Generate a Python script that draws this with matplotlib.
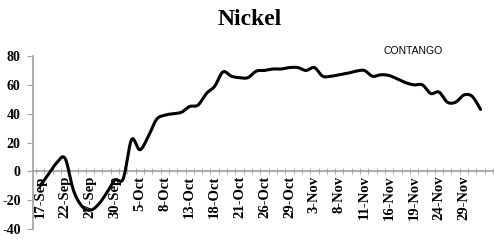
import matplotlib
matplotlib.use("Agg")
import matplotlib.pyplot as plt
import numpy as np

dates = ['17-Sep', '18-Sep', '21-Sep', '22-Sep', '23-Sep', '24-Sep', '27-Sep', '28-Sep', '29-Sep',
         '30-Sep', '1-Oct', '2-Oct', '5-Oct', '6-Oct', '7-Oct', '8-Oct', '9-Oct', '12-Oct',
         '13-Oct', '15-Oct', '16-Oct', '18-Oct', '19-Oct', '20-Oct', '21-Oct', '22-Oct', '23-Oct',
         '26-Oct', '27-Oct', '28-Oct', '29-Oct', '30-Oct', '2-Nov', '3-Nov', '4-Nov', '5-Nov',
         '8-Nov', '9-Nov', '10-Nov', '11-Nov', '12-Nov', '13-Nov', '16-Nov', '17-Nov', '18-Nov',
         '19-Nov', '20-Nov', '23-Nov', '24-Nov', '25-Nov', '26-Nov', '29-Nov', '30-Nov', '1-Dec']
contango = [-10, -2, 6, 9, -13, -24, -27, -23, -15, -6, -5, 22, 15, 24, 36, 39, 40, 41,
            45, 46, 54, 59, 69, 66, 65, 65, 69.5, 70, 71, 71, 72, 72, 70, 72, 66, 66,
            67, 68, 69.5, 70, 66, 67, 66.5, 64, 61.5, 60, 60, 54, 55, 48, 48, 53, 52, 43]
yticks = [-40, -20, 0, 20, 40, 60, 80]


def smooth(x, y, n=20):
    # Catmull-Rom style Bezier smoothing (like Excel's smoothed line)
    x = np.asarray(x, float)
    y = np.asarray(y, float)
    px, py = [], []
    N = len(x)
    for i in range(N - 1):
        x0, y0 = (x[i - 1], y[i - 1]) if i > 0 else (x[i], y[i])
        x1, y1 = x[i], y[i]
        x2, y2 = x[i + 1], y[i + 1]
        x3, y3 = (x[i + 2], y[i + 2]) if i + 2 < N else (x2, y2)
        c1x, c1y = x1 + (x2 - x0) / 6, y1 + (y2 - y0) / 6
        c2x, c2y = x2 - (x3 - x1) / 6, y2 - (y3 - y1) / 6
        t = np.linspace(0, 1, n, endpoint=(i == N - 2))
        a = (1 - t) ** 3
        b = 3 * (1 - t) ** 2 * t
        c = 3 * (1 - t) * t ** 2
        d = t ** 3
        px.append(a * x1 + b * c1x + c * c2x + d * x2)
        py.append(a * y1 + b * c1y + c * c2y + d * y2)
    return np.concatenate(px), np.concatenate(py)


fig = plt.figure(figsize=(4.94, 2.49), dpi=100)
ax = fig.add_axes([0.067, 0.080, 0.931, 0.695])

xs = np.arange(len(contango))
sx, sy = smooth(xs, contango)
ax.plot(sx, sy, color='black', lw=2.2, solid_capstyle='round', zorder=3)

ax.set_ylim(-40, 80)
ax.set_xlim(-0.85, 54.4)
ax.set_yticks(yticks)
ax.set_yticklabels([str(v) for v in yticks])

ax.set_xticks(xs[::3])
ax.set_xticklabels(dates[::3])
ax.set_xticks(np.arange(-0.5, len(contango) + 1, 1), minor=True)
ax.tick_params(axis='x', which='major', length=0, pad=3, labelrotation=90)
ax.tick_params(axis='x', which='minor', length=4, color='#a0a0a0', direction='inout')
ax.tick_params(axis='y', length=4, color='#a0a0a0', pad=5)

for s in ['top', 'right']:
    ax.spines[s].set_visible(False)
ax.spines['bottom'].set_position(('data', 0))
ax.spines['bottom'].set_color('#a0a0a0')
ax.spines['left'].set_color('#a0a0a0')
ax.spines['bottom'].set_linewidth(1.2)
ax.spines['left'].set_linewidth(1.2)

for lbl in ax.get_xticklabels():
    lbl.set_fontfamily('Liberation Serif')
    lbl.set_fontweight('bold')
    lbl.set_fontsize(10.5)
    lbl.set_rotation(90)
    lbl.set_verticalalignment('top')
    lbl.set_horizontalalignment('center')
for lbl in ax.get_yticklabels():
    lbl.set_fontfamily('Liberation Serif')
    lbl.set_fontweight('bold')
    lbl.set_fontsize(10)

fig.text(0.505, 0.92, 'Nickel', ha='center', va='center', fontfamily='Liberation Serif',
         fontweight='bold', fontsize=17)
ax.text(0.826, 1.03, 'CONTANGO', transform=ax.transAxes, ha='center', va='center',
        fontfamily='Liberation Sans', fontsize=7.5)

fig.savefig('out.png', dpi=100)
